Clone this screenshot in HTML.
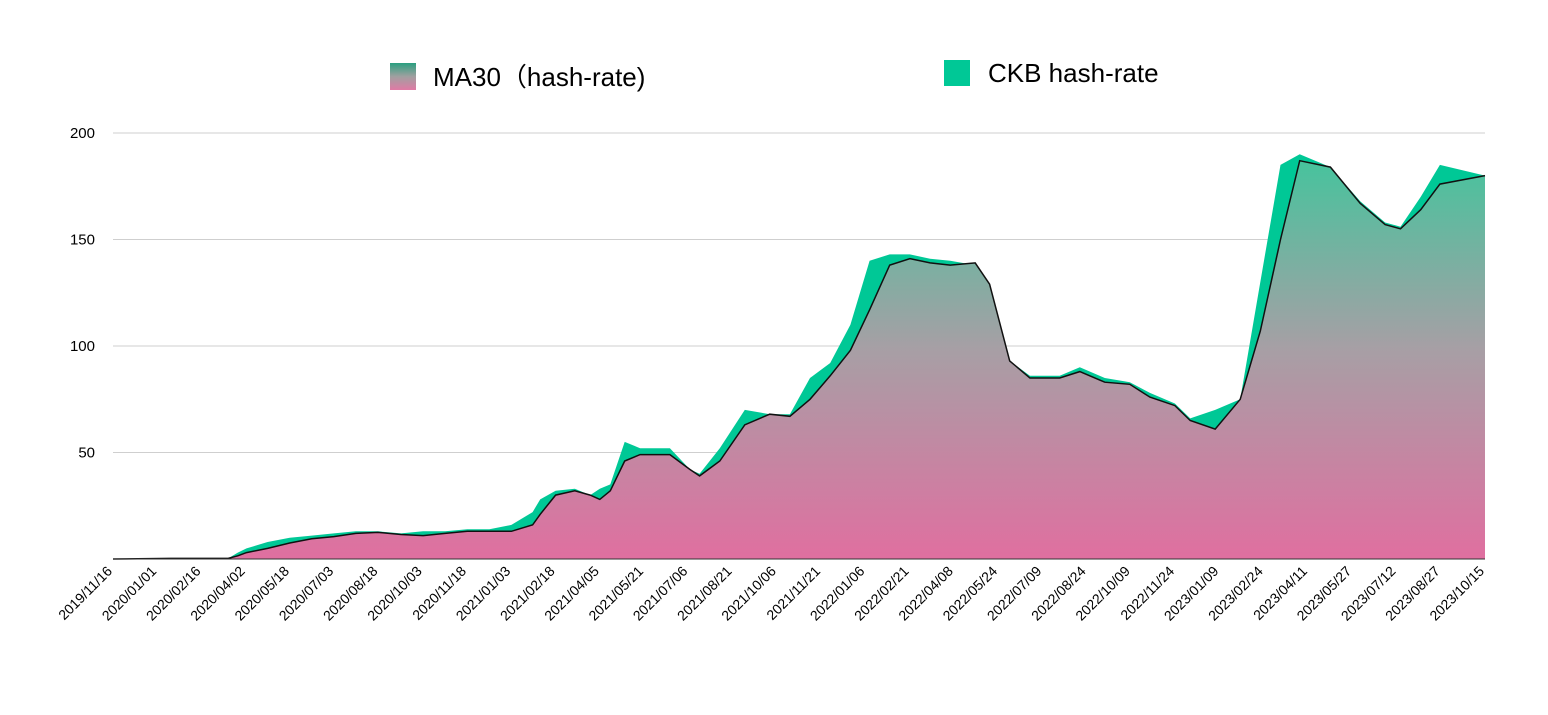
<!DOCTYPE html>
<html><head><meta charset="utf-8"><style>
body{margin:0;background:#fff;font-family:"Liberation Sans","Noto Sans CJK SC",sans-serif;}
svg text{font-family:"Liberation Sans","Noto Sans CJK SC",sans-serif;}
</style></head><body>
<svg id="chart" width="1548" height="710" viewBox="0 0 1548 710" xmlns="http://www.w3.org/2000/svg">
<defs>
<linearGradient id="maGrad" gradientUnits="userSpaceOnUse" x1="0" y1="140" x2="0" y2="559">
<stop offset="0" stop-color="#3cc79c"/><stop offset="0.5" stop-color="#a79fa5"/><stop offset="1" stop-color="#e06fa0"/>
</linearGradient>
<linearGradient id="legGrad" x1="0" y1="0" x2="0" y2="1">
<stop offset="0" stop-color="#2a9f80"/><stop offset="0.5" stop-color="#a0a0a0"/><stop offset="1" stop-color="#e07aa5"/>
</linearGradient>
</defs>
<g>
<rect x="390" y="63" width="26" height="27" fill="url(#legGrad)"/>
<text x="433" y="86" font-size="26" fill="#000">MA30（hash-rate)</text>
<rect x="944" y="60" width="26" height="26" fill="#00c896"/>
<text x="988" y="82" font-size="26" fill="#000">CKB hash-rate</text>
</g>
<g id="grid"></g>
<g id="series"></g>
<g id="xaxis"></g>
</svg>
<script>
const days=[0,60,120,130,139,161,184,207,230,253,276,300,323,346,369,392,415,437,445,461,481,497,507,518,533,549,580,601,611,632,658,684,705,726,747,768,788,809,830,851,872,898,913,934,955,986,1007,1033,1059,1080,1106,1122,1148,1174,1195,1216,1236,1268,1299,1325,1341,1362,1382,1429];
const ma30=[0,0.3,0.3,1.5,3,5,7.5,9.5,10.5,12,12.5,11.5,11,12,13,13,13,16,21,30,32,30,28,32,46,49,49,42,39,46,63,68,67,75,86,98,117,138,141,139,138,139,129,93,85,85,88,83,82,76,72,65,61,75,107,150,187,184,167,157,155,164,176,180];
const hash=[0,0.3,0.3,3,5,8,10,11,12,13,13,12,13,13,14,14,16,22,28,32,33,30,33,35,55,52,52,42,40,52,70,68,68,85,92,110,140,143,143,141,140,138,129,93,86,86,90,85,83,78,73,66,70,75,130,185,190,184,168,158,156,170,185,180];
const yTicks=[50,100,150,200];
const xLabels=["2019/11/16","2020/01/01","2020/02/16","2020/04/02","2020/05/18","2020/07/03","2020/08/18","2020/10/03","2020/11/18","2021/01/03","2021/02/18","2021/04/05","2021/05/21","2021/07/06","2021/08/21","2021/10/06","2021/11/21","2022/01/06","2022/02/21","2022/04/08","2022/05/24","2022/07/09","2022/08/24","2022/10/09","2022/11/24","2023/01/09","2023/02/24","2023/04/11","2023/05/27","2023/07/12","2023/08/27","2023/10/15"];
const NS="http://www.w3.org/2000/svg";
const X0=113,X1=1485,Y0=559,Y200=133,DMAX=1429;
const xs=d=>X0+d/DMAX*(X1-X0);
const ys=v=>Y0-v/200*(Y0-Y200);
function mk(t,a,p){const e=document.createElementNS(NS,t);for(const k in a)e.setAttribute(k,a[k]);p.appendChild(e);return e;}
const grid=document.getElementById('grid');
yTicks.forEach(v=>{
 const l=mk('line',{x1:X0,x2:X1,y1:ys(v),y2:ys(v),stroke:'#cfcfcf','stroke-width':1},grid);
 
 
 const t=mk('text',{x:95,y:ys(v)+5,'text-anchor':'end','font-size':15,fill:'#000'},grid);
 t.textContent=v;
 
 
});
const s=document.getElementById('series');
function areaPath(arr){let d='M'+xs(days[0])+','+Y0;arr.forEach((v,i)=>d+=' L'+xs(days[i]).toFixed(1)+','+ys(v).toFixed(1));return d+' L'+xs(days[days.length-1])+','+Y0+' Z';}
const ha=mk('path',{d:areaPath(hash),fill:'#00c896'},s);


const ma=mk('path',{d:areaPath(ma30),fill:'url(#maGrad)'},s);


let ld='';ma30.forEach((v,i)=>ld+=(i?' L':'M')+xs(days[i]).toFixed(1)+','+ys(v).toFixed(1));
const ml=mk('path',{d:ld,fill:'none',stroke:'#111','stroke-width':1.5},s);


const xa=document.getElementById('xaxis');
const base=mk('line',{x1:X0,x2:X1,y1:Y0,y2:Y0,stroke:'#333','stroke-width':1},xa);


xLabels.forEach((lab,i)=>{
 const x=X0+i*(X1-X0)/(xLabels.length-1);
 const t=mk('text',{x:x,y:572,'text-anchor':'end','font-size':14,fill:'#000',transform:'rotate(-45 '+x+' 572)'},xa);
 t.textContent=lab;
 
 
});
</script>
</body></html>
